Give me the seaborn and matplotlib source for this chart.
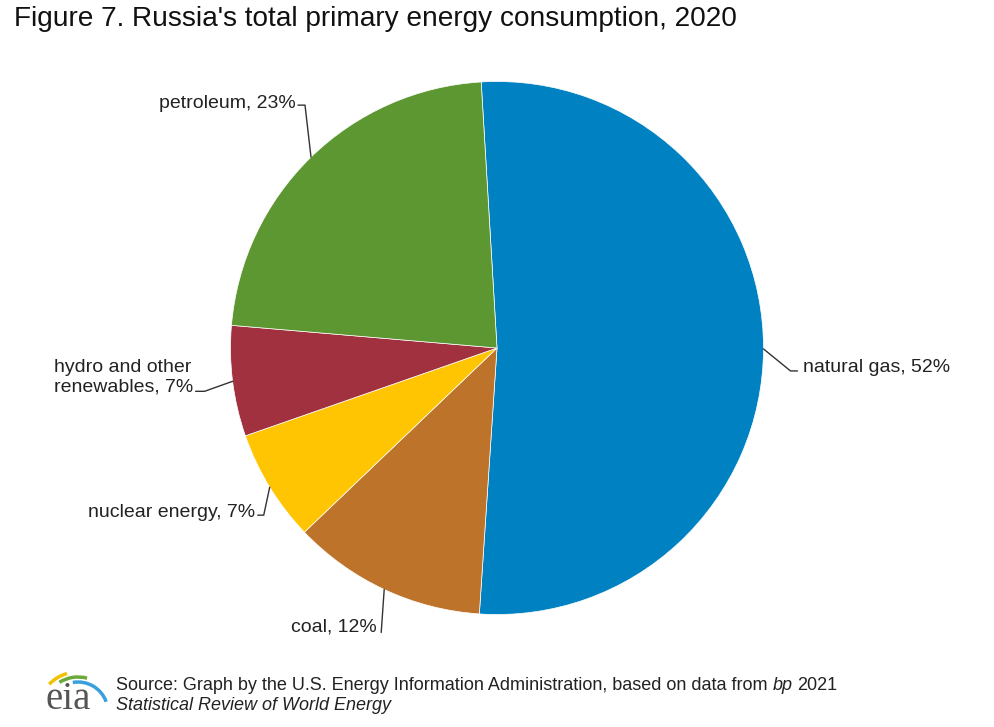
import numpy as np
import matplotlib
matplotlib.use("Agg")
import matplotlib.pyplot as plt
from matplotlib.patches import Arc
import seaborn as sns

# data (shares of total primary energy consumption, %)
sources = ["natural gas", "coal", "nuclear energy", "hydro and other\nrenewables", "petroleum"]
shares = [52.0, 11.8, 6.8, 6.7, 22.7]
colors = ["#0081C1", "#BD732A", "#FFC503", "#A1313F", "#5D9732"]

title = "Figure 7. Russia's total primary energy consumption, 2020"
source_line1 = "Source: Graph by the U.S. Energy Information Administration, based on data from"
source_line2 = "Statistical Review of World Energy"

sns.set_theme(style="white")
plt.rcParams["font.family"] = ["Liberation Sans", "DejaVu Sans"]

W, H = 995, 727
PX = 266.5  # pixels per data unit (pie radius = 1)
cx, cy = 497, 348

fig = plt.figure(figsize=(W / 100, H / 100), dpi=100)
ax = fig.add_axes([0, 0, 1, 1])
wedges, _ = ax.pie(shares, colors=colors, startangle=93.4, counterclock=False,
                   radius=1, wedgeprops=dict(edgecolor="white", linewidth=0.5))
ax.set_xlim(-cx / PX, (W - cx) / PX)
ax.set_ylim(-(H - cy) / PX, cy / PX)
ax.axis("off")

# leader line layout in pixels: elbow offset (dx, dy down), horizontal run, text gap, text y shift
layout = {
    "natural gas": ((27, 22), 7, 6, 3),
    "coal": ((-3, 43), 0, 4, 5),
    "nuclear energy": ((-6, 28), -6, 3, 3),
    "hydro and other\nrenewables": ((-28, 10), -9, 2, 14),
    "petroleum": ((-6, -52), -7, 2, 2),
}

for w, name, val in zip(wedges, sources, shares):
    ang = np.deg2rad((w.theta1 + w.theta2) / 2)
    ax0, ay0 = np.cos(ang), np.sin(ang)
    (ex, ey), run, gap, shift = layout[name]
    ex1, ey1 = ax0 + ex / PX, ay0 - ey / PX
    ex2 = ex1 + run / PX
    ax.plot([ax0, ex1, ex2], [ay0, ey1, ey1], color="#333333", lw=1)
    right = ex <= 0 and name != "natural gas"
    tx = ex2 - gap / PX if right else ex2 + gap / PX
    ax.text(tx, ey1 + shift / PX, f"{name}, {val:.0f}%", ha="right" if right else "left",
            va="center", fontsize=14, color="#222222", multialignment="left",
            linespacing=1.2)

fig.text(14 / W, 1 - 19 / H, title, fontsize=20.2, color="#111111", va="center", ha="left")

t1 = fig.text(116 / W, 1 - 685 / H, source_line1 + " ", fontsize=13, color="#222222",
              va="center", ha="left")
t2 = ax.annotate("bp", xy=(1, 0), xycoords=t1, ha="left", va="bottom", fontsize=13,
                 style="italic", color="#222222")
ax.annotate("2021", xy=(1, 0), xycoords=t2, xytext=(3, 0), textcoords="offset points",
            ha="left", va="bottom", fontsize=13, color="#222222")
fig.text(116 / W, 1 - 705 / H, source_line2, fontsize=13, color="#222222",
         va="center", ha="left", style="italic")

# eia logo, drawn in pixel coordinates (y up)
lx0, lx1, ly0, ly1 = 36, 112, H - 722, H - 662
lax = fig.add_axes([lx0 / W, ly0 / H, (lx1 - lx0) / W, (ly1 - ly0) / H])
lax.set_xlim(lx0, lx1)
lax.set_ylim(ly0, ly1)
lax.axis("off")
lax.text(68, H - 709, "eia", family=["Liberation Serif", "DejaVu Serif"], fontsize=28,
         color="#555555", ha="center", va="baseline")
for c, r, a1, a2 in [("#F2C200", 40, 106, 136), ("#6AAA3A", 35, 75, 122),
                     ("#3AA0DD", 30, 20, 100)]:
    lax.add_patch(Arc((78, H - 712), 2 * r, 2 * r, theta1=a1, theta2=a2, color=c, lw=2.5))

fig.savefig("out.png", dpi=100)
